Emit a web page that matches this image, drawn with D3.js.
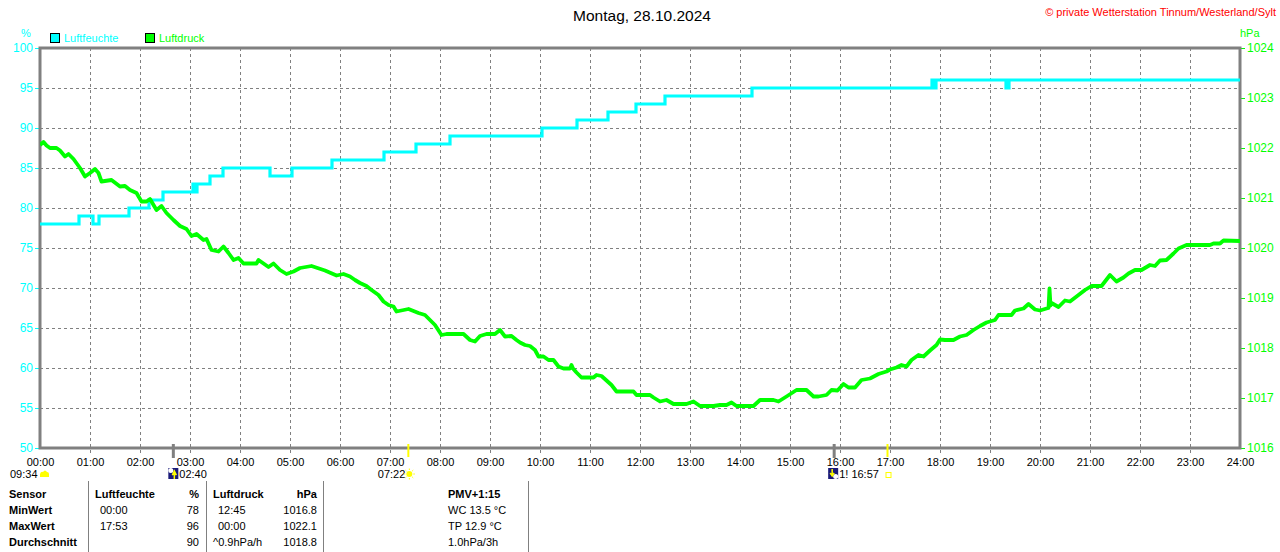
<!DOCTYPE html>
<html><head><meta charset="utf-8">
<script src="https://cdn.jsdelivr.net/npm/d3@7"></script>
<style>
html,body{margin:0;padding:0;background:#fff;}
svg{display:block;font-family:"Liberation Sans",Arial,sans-serif;}
</style></head>
<body>
<svg id="c" width="1280" height="552"></svg>
<script>
// ---- data ----
const title = "Montag, 28.10.2024";
const copyright = "\u00a9 private Wetterstation Tinnum/Westerland/Sylt";
const seriesNames = ["Luftfeuchte", "Luftdruck"];
const xTickLabels = d3.range(0, 25).map(h => String(h).padStart(2, "0") + ":00");
const humTicks = [50, 55, 60, 65, 70, 75, 80, 85, 90, 95, 100];
const presTicks = [1016, 1017, 1018, 1019, 1020, 1021, 1022, 1023, 1024];

// humidity (%) change points: hour, value
const humT = [0, 0.78, 1.06, 1.18, 1.78, 2.18, 2.46, 3.06, 3.10, 3.14, 3.40, 3.66, 4.60, 5.04, 5.84, 6.88, 7.52, 8.20, 10.04, 10.74, 11.36, 11.92, 12.50, 14.24, 17.84, 17.88, 17.92, 19.32, 19.38, 24];
const humV = [78, 79, 78, 79, 80, 81, 82, 83, 82, 83, 84, 85, 84, 85, 86, 87, 88, 89, 90, 91, 92, 93, 94, 95, 96, 95, 96, 95, 96, 96];

// pressure (hPa): hour, value
const presT = [0, 0.07, 0.13, 0.2, 0.33, 0.4, 0.5, 0.57, 0.67, 0.8, 0.9, 1.0, 1.1, 1.17, 1.23, 1.43, 1.6, 1.7, 1.8, 1.93, 2.03, 2.13, 2.2, 2.33, 2.43, 2.53, 2.67, 2.8, 2.93, 3.03, 3.13, 3.27, 3.33, 3.43, 3.57, 3.67, 3.77, 3.87, 3.97, 4.07, 4.33, 4.37, 4.47, 4.57, 4.67, 4.8, 4.93, 5.07, 5.2, 5.43, 5.7, 5.93, 6.07, 6.2, 6.3, 6.4, 6.53, 6.63, 6.77, 6.87, 6.97, 7.07, 7.13, 7.37, 7.57, 7.7, 7.8, 7.9, 8.03, 8.13, 8.47, 8.6, 8.7, 8.8, 8.93, 9.1, 9.2, 9.3, 9.43, 9.53, 9.6, 9.7, 9.8, 9.9, 9.97, 10.07, 10.17, 10.27, 10.37, 10.47, 10.6, 10.63, 10.66, 10.73, 10.83, 11.07, 11.13, 11.23, 11.33, 11.43, 11.53, 11.87, 11.93, 12.2, 12.27, 12.4, 12.53, 12.67, 12.93, 13.07, 13.2, 13.47, 13.6, 13.73, 13.83, 13.93, 14.27, 14.4, 14.67, 14.77, 14.93, 15.13, 15.33, 15.47, 15.57, 15.73, 15.83, 15.95, 16.07, 16.17, 16.3, 16.43, 16.6, 16.77, 16.93, 17.0, 17.13, 17.23, 17.33, 17.43, 17.57, 17.67, 17.8, 17.93, 18.0, 18.1, 18.27, 18.4, 18.53, 18.67, 18.8, 18.93, 19.1, 19.17, 19.43, 19.5, 19.67, 19.77, 19.9, 20.0, 20.13, 20.17, 20.19, 20.21, 20.23, 20.37, 20.5, 20.6, 20.77, 20.9, 21.03, 21.23, 21.3, 21.4, 21.53, 21.67, 21.77, 21.9, 22.03, 22.2, 22.3, 22.4, 22.53, 22.67, 22.77, 22.93, 23.4, 23.47, 23.6, 23.67, 24];
const presV = [1022.06, 1022.12, 1022.05, 1022.0, 1022.0, 1021.95, 1021.83, 1021.88, 1021.78, 1021.6, 1021.43, 1021.5, 1021.58, 1021.5, 1021.33, 1021.36, 1021.23, 1021.24, 1021.16, 1021.1, 1020.93, 1020.93, 1020.98, 1020.76, 1020.84, 1020.7, 1020.56, 1020.44, 1020.38, 1020.24, 1020.28, 1020.16, 1020.18, 1019.96, 1019.93, 1020.03, 1019.9, 1019.76, 1019.8, 1019.69, 1019.69, 1019.76, 1019.69, 1019.62, 1019.69, 1019.56, 1019.48, 1019.53, 1019.6, 1019.64, 1019.55, 1019.45, 1019.48, 1019.43, 1019.36, 1019.3, 1019.24, 1019.16, 1019.06, 1018.93, 1018.86, 1018.83, 1018.73, 1018.78, 1018.7, 1018.66, 1018.56, 1018.46, 1018.26, 1018.28, 1018.28, 1018.16, 1018.13, 1018.24, 1018.28, 1018.28, 1018.36, 1018.23, 1018.24, 1018.16, 1018.11, 1018.06, 1018.04, 1017.96, 1017.83, 1017.83, 1017.76, 1017.76, 1017.63, 1017.59, 1017.59, 1017.66, 1017.59, 1017.51, 1017.41, 1017.41, 1017.46, 1017.44, 1017.35, 1017.26, 1017.13, 1017.13, 1017.06, 1017.06, 1017.01, 1016.93, 1016.96, 1016.88, 1016.88, 1016.93, 1016.84, 1016.84, 1016.86, 1016.86, 1016.91, 1016.84, 1016.84, 1016.96, 1016.96, 1016.93, 1017.03, 1017.16, 1017.16, 1017.03, 1017.03, 1017.06, 1017.16, 1017.15, 1017.28, 1017.21, 1017.21, 1017.36, 1017.39, 1017.48, 1017.53, 1017.57, 1017.61, 1017.66, 1017.63, 1017.76, 1017.86, 1017.83, 1017.95, 1018.06, 1018.17, 1018.16, 1018.16, 1018.23, 1018.26, 1018.36, 1018.44, 1018.51, 1018.56, 1018.66, 1018.66, 1018.75, 1018.79, 1018.88, 1018.77, 1018.75, 1018.79, 1018.8, 1019.19, 1018.85, 1018.9, 1018.82, 1018.95, 1018.93, 1019.06, 1019.16, 1019.24, 1019.24, 1019.33, 1019.46, 1019.33, 1019.41, 1019.49, 1019.56, 1019.56, 1019.66, 1019.64, 1019.75, 1019.76, 1019.89, 1019.99, 1020.06, 1020.06, 1020.09, 1020.09, 1020.15, 1020.14];

// astronomical markers (hour of event)
const moonRiseT = 2 + 40 / 60, sunRiseT = 7 + 22 / 60, moonSetT = 15 + 53 / 60, sunSetT = 16 + 57 / 60;
const markerTexts = ["09:34", "02:40", "07:22", "1!  16:57"];

// statistics table
const tableHeader = ["Sensor", "Luftfeuchte", "%", "Luftdruck", "hPa", "PMV+1:15"];
const rowNames = ["MinWert", "MaxWert", "Durchschnitt"];
const humTimes = ["00:00", "17:53", ""];
const humStats = ["78", "96", "90"];
const presTimes = ["12:45", "00:00", "^0.9hPa/h"];
const presStats = ["1016.8", "1022.1", "1018.8"];
const pmvTexts = ["WC 13.5 \u00b0C", "TP 12.9 \u00b0C", "1.0hPa/3h"];

// ---- drawing ----
const CYAN = "#00ffff", GREEN = "#00ff00", GRID = "#808080";
const svg = d3.select("#c");
const L = 40, R = 1240, T = 48, B = 448;
const x = d3.scaleLinear().domain([0, 24]).range([L, R]);
const yH = d3.scaleLinear().domain([50, 100]).range([B, T]);
const yP = d3.scaleLinear().domain([1016, 1024]).range([B, T]);

svg.append("rect").attr("width", 1280).attr("height", 552).attr("fill", "#fff");

// title & copyright
svg.append("text").attr("x", 642).attr("y", 21).attr("text-anchor", "middle")
  .attr("font-size", 15.5).attr("fill", "#000").text(title);
svg.append("text").attr("x", 1276).attr("y", 16).attr("text-anchor", "end")
  .attr("font-size", 11).attr("fill", "#ff0000").text(copyright);

// grid
const grid = svg.append("g").attr("stroke", GRID).attr("stroke-width", 1).attr("stroke-dasharray", "3,3");
grid.selectAll("line.v").data(d3.range(1, 24)).join("line")
  .attr("x1", d => Math.round(x(d)) + 0.5).attr("x2", d => Math.round(x(d)) + 0.5)
  .attr("y1", T).attr("y2", B + 6);
grid.selectAll("line.h").data(humTicks.slice(1, -1)).join("line")
  .attr("x1", L).attr("x2", R).attr("y1", d => Math.round(yH(d)) + 0.5).attr("y2", d => Math.round(yH(d)) + 0.5);

// axes
const axL = svg.append("g").attr("transform", `translate(${L},0)`)
  .call(d3.axisLeft(yH).tickValues(humTicks).tickSize(5).tickPadding(2).tickFormat(d3.format("d")));
const axR = svg.append("g").attr("transform", `translate(${R},0)`)
  .call(d3.axisRight(yP).tickValues(presTicks).tickSize(5).tickPadding(2).tickFormat(d3.format("d")));
const axB = svg.append("g").attr("transform", `translate(0,${B})`)
  .call(d3.axisBottom(x).tickValues(d3.range(0, 25)).tickSize(0).tickPadding(10).tickFormat(d => xTickLabels[d]));
[axL, axR, axB].forEach(a => a.select(".domain").remove());
axL.selectAll("line").attr("stroke", CYAN);
axL.selectAll("text").attr("fill", CYAN).attr("font-size", 12).attr("font-family", "Liberation Sans, Arial, sans-serif");
axR.selectAll("line").attr("stroke", GREEN);
axR.selectAll("text").attr("fill", GREEN).attr("font-size", 12).attr("font-family", "Liberation Sans, Arial, sans-serif");
axB.selectAll("text").attr("fill", "#000").attr("font-size", 11).attr("font-family", "Liberation Sans, Arial, sans-serif");

// frame
svg.append("rect").attr("x", L).attr("y", T).attr("width", R - L).attr("height", B - T)
  .attr("fill", "none").attr("stroke", GRID).attr("stroke-width", 3);

// units
svg.append("text").attr("x", 26).attr("y", 37).attr("text-anchor", "middle").attr("font-size", 11).attr("fill", CYAN).text("%");
svg.append("text").attr("x", 1240).attr("y", 37).attr("font-size", 11).attr("fill", GREEN).text("hPa");

// legend
[[50, CYAN], [145, GREEN]].forEach(([lx, col], i) => {
  svg.append("rect").attr("x", lx + 0.5).attr("y", 33.5).attr("width", 9).attr("height", 9)
    .attr("fill", col).attr("stroke", "#000").attr("stroke-width", 1);
  svg.append("text").attr("x", lx + 14).attr("y", 42).attr("font-size", 11).attr("fill", col).text(seriesNames[i]);
});

// clip
svg.append("clipPath").attr("id", "pc").append("rect").attr("x", L).attr("y", T - 2).attr("width", R - L).attr("height", B - T + 2);

// humidity line
const humData = humT.map((t, i) => [t, humV[i]]);
svg.append("path").attr("clip-path", "url(#pc)")
  .attr("d", d3.line().x(d => x(d[0])).y(d => yH(d[1])).curve(d3.curveStepAfter)(humData))
  .attr("fill", "none").attr("stroke", CYAN).attr("stroke-width", 3.2);

// pressure line
const presData = presT.map((t, i) => [t, presV[i]]);
svg.append("path").attr("clip-path", "url(#pc)")
  .attr("d", d3.line().x(d => x(d[0])).y(d => yP(d[1]))(presData))
  .attr("fill", "none").attr("stroke", GREEN).attr("stroke-width", 3.8).attr("stroke-linejoin", "round");

// markers ticks below axis
svg.append("line").attr("x1", x(moonRiseT)).attr("x2", x(moonRiseT)).attr("y1", 444).attr("y2", 458).attr("stroke", GRID).attr("stroke-width", 3);
svg.append("line").attr("x1", x(moonSetT)).attr("x2", x(moonSetT)).attr("y1", 444).attr("y2", 458).attr("stroke", GRID).attr("stroke-width", 3);
svg.append("line").attr("x1", x(sunRiseT)).attr("x2", x(sunRiseT)).attr("y1", 444).attr("y2", 457).attr("stroke", "#ffff00").attr("stroke-width", 2);
svg.append("line").attr("x1", x(sunSetT)).attr("x2", x(sunSetT)).attr("y1", 444).attr("y2", 457).attr("stroke", "#ffff00").attr("stroke-width", 2);

const mk = svg.append("g").attr("font-size", 11).attr("fill", "#000");
// 09:34 + cloud
mk.append("text").attr("x", 10).attr("y", 478).text(markerTexts[0]);
mk.append("path").attr("d", "M40,477 L40,474 Q41,471 43,472 Q45,469 47,472 Q49,472 49,474 L49,477 Z").attr("fill", "#ffff00");
// moonrise icon
function moonIcon(cx, up) {
  const g = svg.append("g").attr("transform", `translate(${cx - 5},468)`);
  g.append("rect").attr("width", 10).attr("height", 11).attr("fill", "#1a1a7a");
  g.append("circle").attr("cx", up ? 2.5 : 7.5).attr("cy", up ? 2.5 : 8.5).attr("r", 2.5).attr("fill", "#fff");
  if (up) g.append("path").attr("d", "M6,11 L6,5 L4,7 L6,3 L8,7 L6,5").attr("stroke", "#ffff00").attr("stroke-width", 1.5).attr("fill", "none");
  else g.append("path").attr("d", "M4,1 L4,7 M2,5 L4,8 L6,5").attr("stroke", "#ffff00").attr("stroke-width", 1.5).attr("fill", "none");
}
moonIcon(x(moonRiseT), true);
mk.append("text").attr("x", x(moonRiseT) + 6).attr("y", 478).text(markerTexts[1]);
// sunrise
mk.append("text").attr("x", x(sunRiseT) - 3).attr("y", 478).attr("text-anchor", "end").text(markerTexts[2]);
const sr = svg.append("g").attr("transform", `translate(${x(sunRiseT) + 1},474)`);
sr.append("circle").attr("r", 3).attr("fill", "#ffff00");
sr.selectAll("line").data(d3.range(8)).join("line")
  .attr("x1", d => Math.cos(d * Math.PI / 4) * 4).attr("y1", d => Math.sin(d * Math.PI / 4) * 4)
  .attr("x2", d => Math.cos(d * Math.PI / 4) * 5.5).attr("y2", d => Math.sin(d * Math.PI / 4) * 5.5)
  .attr("stroke", "#ffff00").attr("stroke-width", 1);
// moonset
moonIcon(x(moonSetT) - 1, false);
mk.append("text").attr("x", x(moonSetT) + 5).attr("y", 478).text(markerTexts[3]);
svg.append("rect").attr("x", x(sunSetT) - 1.5).attr("y", 472.5).attr("width", 5).attr("height", 5)
  .attr("fill", "none").attr("stroke", "#ffff00").attr("stroke-width", 1);

// table
const tb = svg.append("g").attr("font-size", 11).attr("fill", "#000");
[88, 206, 323, 528].forEach(vx => tb.append("line").attr("x1", vx + 0.5).attr("x2", vx + 0.5).attr("y1", 481).attr("y2", 552).attr("stroke", GRID).attr("stroke-width", 1));
const rowY = [498, 514, 530, 546];
const hdr = tb.append("g").attr("font-weight", "bold");
hdr.append("text").attr("x", 9).attr("y", rowY[0]).text(tableHeader[0]);
hdr.append("text").attr("x", 95).attr("y", rowY[0]).text(tableHeader[1]);
hdr.append("text").attr("x", 199).attr("y", rowY[0]).attr("text-anchor", "end").text(tableHeader[2]);
hdr.append("text").attr("x", 213).attr("y", rowY[0]).text(tableHeader[3]);
hdr.append("text").attr("x", 317).attr("y", rowY[0]).attr("text-anchor", "end").text(tableHeader[4]);
hdr.append("text").attr("x", 448).attr("y", rowY[0]).text(tableHeader[5]);
rowNames.forEach((n, i) => {
  const y = rowY[i + 1];
  tb.append("text").attr("x", 9).attr("y", y).attr("font-weight", "bold").text(n);
  tb.append("text").attr("x", 100).attr("y", y).text(humTimes[i]);
  tb.append("text").attr("x", 199).attr("y", y).attr("text-anchor", "end").text(humStats[i]);
  tb.append("text").attr("x", i === 2 ? 213 : 218).attr("y", y).text(presTimes[i]);
  tb.append("text").attr("x", 317).attr("y", y).attr("text-anchor", "end").text(presStats[i]);
  tb.append("text").attr("x", 448).attr("y", y).text(pmvTexts[i]);
});
</script>
</body></html>
